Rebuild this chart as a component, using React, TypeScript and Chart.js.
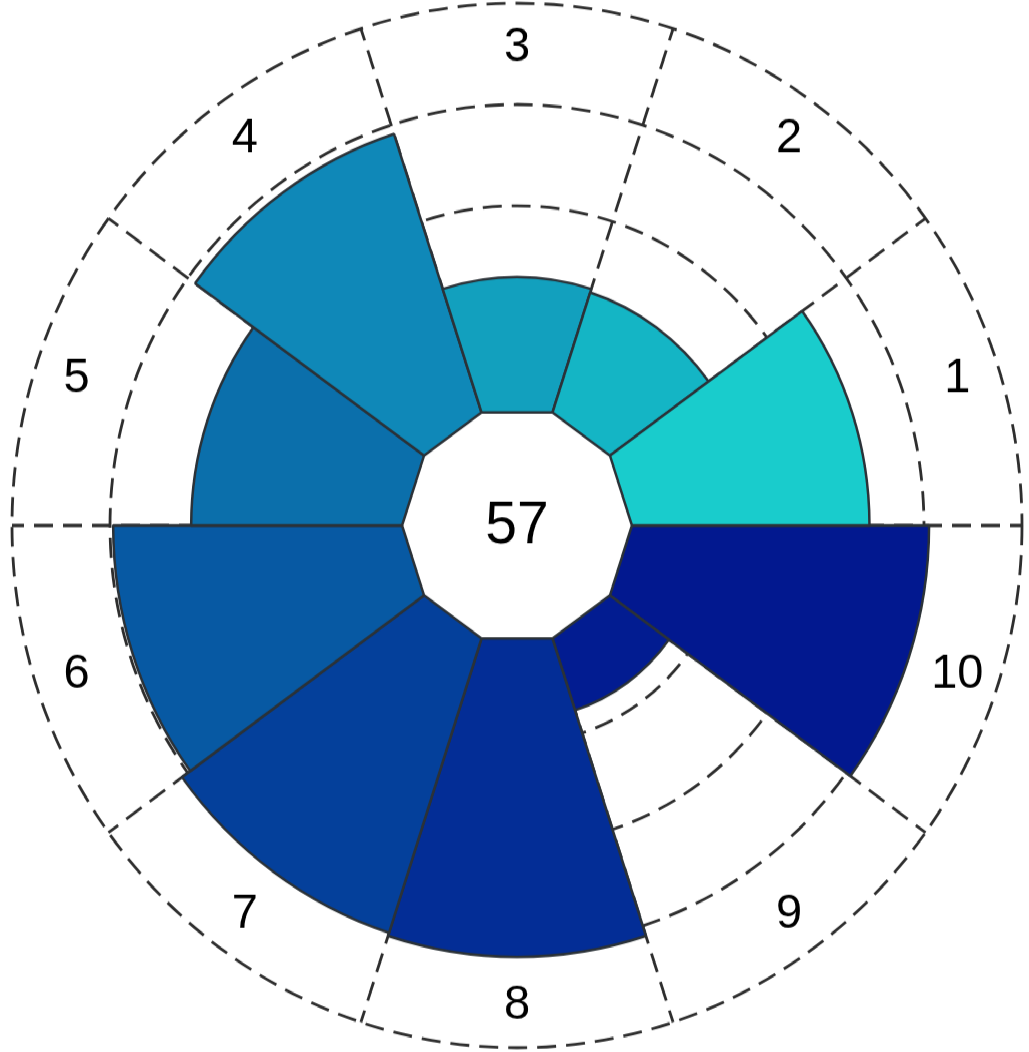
import React, { useEffect, useRef } from 'react';
import { Chart, registerables } from 'chart.js';

Chart.register(...registerables);

// Sector names, listed counter-clockwise starting at 3 o'clock
const categories = ['1', '2', '3', '4', '5', '6', '7', '8', '9', '10'];
// Length of each sector, measured from the rim of the central hole
const values = [61.1, 31.6, 32.5, 72.7, 54.3, 74.2, 76.8, 77.6, 19.1, 76.3];
const sectorColors = [
  '#19cccc', '#14b5c5', '#12a0be', '#0f88b8', '#0b6fab',
  '#0759a3', '#04409b', '#032d96', '#021c91', '#02188f',
];
// Concentric guide rings
const ringTicks = [0, 25, 50, 75, 100];
const centerText = '57';

const HOLE = -28.8; // axis value at the very centre, leaves room for the hub
const AXIS_MAX = 100;
const EDGE = '#2b3238';
const GUIDE = '#2e2e2e';
const DASH = [19, 10];
const FONT = '"Liberation Sans", Arial, Helvetica, sans-serif';

const hubAndLabels = {
  id: 'hubAndLabels',
  afterDatasetsDraw(chart: any) {
    const s = chart.scales.r;
    const ctx = chart.ctx as CanvasRenderingContext2D;
    const labels = chart.data.labels as string[];
    const n = labels.length;

    // central decagon hub
    const hubR = s.getDistanceFromCenterForValue(0) + 2;
    ctx.save();
    ctx.beginPath();
    for (let i = 0; i < n; i++) {
      const p = s.getPointPosition(i, hubR);
      if (i === 0) ctx.moveTo(p.x, p.y);
      else ctx.lineTo(p.x, p.y);
    }
    ctx.closePath();
    ctx.fillStyle = '#ffffff';
    ctx.fill();
    ctx.lineWidth = 2.5;
    ctx.lineJoin = 'miter';
    ctx.strokeStyle = EDGE;
    ctx.stroke();

    ctx.fillStyle = '#000000';
    ctx.textAlign = 'center';
    ctx.textBaseline = 'middle';
    ctx.font = `57px ${FONT}`;
    ctx.fillText(centerText, s.xCenter, s.yCenter + 1);

    // sector names in the outer ring
    const r75 = s.getDistanceFromCenterForValue(75);
    const r100 = s.getDistanceFromCenterForValue(100);
    const labelR = (r75 + r100) / 2 + 7;
    ctx.font = `47px ${FONT}`;
    for (let i = 0; i < n; i++) {
      const a = s.getIndexAngle(i) + Math.PI / n - Math.PI / 2;
      const x = s.xCenter + Math.cos(a) * labelR;
      const y = s.yCenter + Math.sin(a) * labelR;
      ctx.fillText(labels[i], x, y + 1);
    }
    ctx.restore();
  },
};

export default function App() {
  const canvasRef = useRef<HTMLCanvasElement | null>(null);

  useEffect(() => {
    if (!canvasRef.current) return;
    // Chart.js sweeps clockwise, so feed the sectors in reverse order
    const order = categories.map((_, i) => categories.length - 1 - i);
    const chart = new Chart(canvasRef.current, {
      type: 'polarArea',
      data: {
        labels: order.map((i) => categories[i]),
        datasets: [
          {
            data: order.map((i) => values[i]),
            backgroundColor: order.map((i) => sectorColors[i]),
            borderColor: EDGE,
            borderWidth: 2.5,
          },
        ],
      },
      options: {
        animation: false,
        responsive: true,
        maintainAspectRatio: false,
        layout: { padding: { left: 6, right: 0, top: 3, bottom: 4 } },
        plugins: {
          legend: { display: false },
          tooltip: { enabled: false },
        },
        scales: {
          r: {
            min: HOLE,
            max: AXIS_MAX,
            startAngle: 90,
            afterBuildTicks: (scale: any) => {
              scale.ticks = ringTicks.map((v) => ({ value: v }));
            },
            ticks: { display: false },
            pointLabels: { display: false },
            grid: { circular: true, color: GUIDE, lineWidth: 2.8 },
            border: { dash: DASH },
            angleLines: {
              display: true,
              color: GUIDE,
              lineWidth: 2.8,
              borderDash: DASH,
            },
          },
        },
      } as any,
      plugins: [hubAndLabels],
    });
    return () => chart.destroy();
  }, []);

  return (
    <div
      style={{
        position: 'fixed',
        left: 0,
        top: 0,
        width: 1029,
        height: 1017,
        background: '#ffffff',
        transform: `scaleY(${1052 / 1017})`,
        transformOrigin: 'top left',
      }}
    >
      <canvas ref={canvasRef} />
    </div>
  );
}
